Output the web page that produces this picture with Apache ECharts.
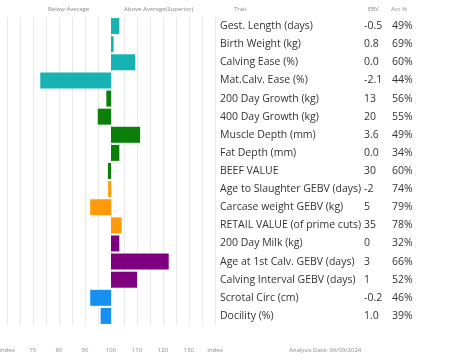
<!DOCTYPE html>
<html><head><meta charset="utf-8">
<script src="https://cdn.jsdelivr.net/npm/echarts@6/dist/echarts.min.js"></script>
<style>html,body{margin:0;padding:0;background:#fff}#c{width:453px;height:362px}</style>
</head><body><div id="c"></div>
<script>
const traits = ["Gest. Length (days)","Birth Weight (kg)","Calving Ease (%)","Mat.Calv. Ease (%)","200 Day Growth (kg)","400 Day Growth (kg)","Muscle Depth (mm)","Fat Depth (mm)","BEEF VALUE","Age to Slaughter GEBV (days)","Carcase weight GEBV (kg)","RETAIL VALUE (of prime cuts)","200 Day Milk (kg)","Age at 1st Calv. GEBV (days)","Calving Interval GEBV (days)","Scrotal Circ (cm)","Docility (%)"];
const ebv = ["-0.5","0.8","0.0","-2.1","13","20","3.6","0.0","30","-2","5","35","0","3","1","-0.2","1.0"];
const acc = ["49%","69%","60%","44%","56%","55%","49%","34%","60%","74%","79%","78%","32%","66%","52%","46%","39%"];
const indexValues = [103.2,101,109.3,72.8,98.2,94.9,111.2,103.2,98.8,98.9,92,104.1,103.2,122.2,110,92,96];
const groupOf = [0,0,0,0,1,1,1,1,1,2,2,2,3,3,3,4,4];
const groupColors = ["#17B3B3","#0A7F0A","#FF9A0A","#7F007F","#1790F0"];
const tickLabels = {60:"Index",70:"70",80:"80",90:"90",100:"100",110:"110",120:"120",130:"130",140:"Index"};

const chart = echarts.init(document.getElementById('c'));
const data = indexValues.map((v,i)=>({value: v-100, itemStyle:{color: groupColors[groupOf[i]]}}));
const hdr = {fontFamily:'Open Sans', fontSize:6, fill:'#888'};
chart.setOption({
  animation:false,
  grid:{left:7, right:238, top:17, bottom:37, outerBoundsMode:'none', containLabel:false},
  xAxis:{type:'value', min:-40, max:40, interval:5,
    axisLine:{show:false}, axisTick:{show:false},
    splitLine:{show:true, lineStyle:{color:'#e9e9e9', width:1}},
    axisLabel:{margin:22, fontSize:6, color:'#888', fontFamily:'Open Sans', hideOverlap:false,
      formatter:(v)=>{const k=Math.round(v+100); return tickLabels[k]!==undefined && k%10===0 ? tickLabels[k] : '';}}},
  yAxis:{type:'category', data:traits, inverse:true, position:'right',
    axisLine:{show:false}, axisTick:{show:false}, splitLine:{show:false},
    axisLabel:{margin:5, align:'left', fontFamily:'Open Sans', fontSize:10.5, color:'#333',
      formatter:(v,i)=>`{n|${v}}{e|${ebv[i]}}{a|${acc[i]}}`,
      rich:{n:{width:144, fontFamily:'Open Sans', fontSize:10.5, color:'#333'},
            e:{width:28, fontFamily:'Open Sans', fontSize:10.5, color:'#333'},
            a:{fontFamily:'Open Sans', fontSize:10.5, color:'#333'}}}},
  series:[{type:'bar', data:data, barWidth:16}],
  graphic:[
    {type:'text', left:48, top:6, style:Object.assign({text:'Below Average'},hdr)},
    {type:'text', left:124, top:6, style:Object.assign({text:'Above Average(Superior)'},hdr)},
    {type:'text', left:234, top:6, style:Object.assign({text:'Trait'},hdr)},
    {type:'text', left:368, top:6, style:Object.assign({text:'EBV'},hdr)},
    {type:'text', left:391, top:6, style:Object.assign({text:'Acc %'},hdr)},
    {type:'text', left:289, top:347, style:Object.assign({text:'Analysis Date: 06/09/2024'},hdr)}
  ]
});
</script></body></html>
